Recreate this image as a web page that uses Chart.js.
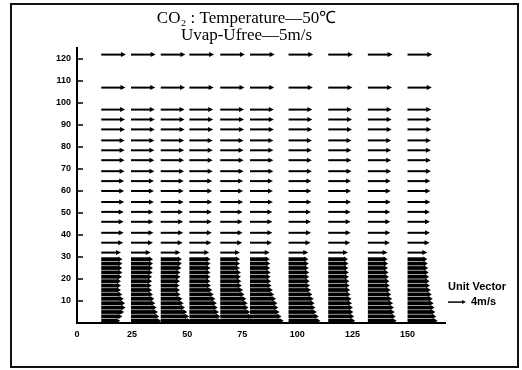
<!DOCTYPE html>
<html>
<head>
<meta charset="utf-8">
<script src="https://cdn.jsdelivr.net/npm/chart.js@4.4.0/dist/chart.umd.min.js"></script>
<style>
  html, body { margin: 0; padding: 0; background: #fff; }
  #wrap { position: relative; width: 522px; height: 370px; }
  #frame { position: absolute; left: 10px; top: 3px; width: 505px; height: 361px; border: 2px solid #111; pointer-events: none; }
</style>
</head>
<body>
<div id="wrap">
  <canvas id="myChart" width="522" height="370"></canvas>
  <div id="frame"></div>
</div>
<script>
// x position of each column of vectors
var columnsX = [11, 24.5, 38, 51, 65, 78.5, 96, 114, 132, 150];

// rows above the film (y) and their speed in m/s
var upperY = [32, 36.5, 41, 46, 50.5, 55, 60, 64.5, 69, 74, 78.5, 83, 88, 92.5, 97, 107, 122];
var upperSpeed = [4.4, 4.9, 5.0, 5.0, 5.0, 5.1, 5.1, 5.1, 5.2, 5.2, 5.2, 5.2, 5.3, 5.3, 5.3, 5.4, 5.5];

// dense rows near the wall (y) and speed per column, bottom to top
var denseY = [1, 3, 5, 7, 9, 11, 13, 15, 17, 19, 21, 23, 25, 27, 29];
var denseSpeed = [
  [4.2, 4.7, 5.1, 5.4, 5.3, 5.0, 4.7, 4.4, 4.4, 4.4, 4.6, 4.7, 4.7, 4.7, 4.7],
  [6.7, 6.3, 6.0, 5.7, 5.4, 5.2, 4.9, 4.7, 4.6, 4.7, 4.7, 4.8, 4.9, 4.9, 4.9],
  [6.8, 6.3, 5.9, 5.4, 5.1, 4.8, 4.4, 4.3, 4.2, 4.3, 4.4, 4.4, 4.6, 4.7, 4.7],
  [7.3, 6.9, 6.6, 6.3, 6.1, 5.8, 5.4, 5.1, 4.8, 4.7, 4.7, 4.7, 4.7, 4.7, 4.7],
  [7.6, 7.1, 6.7, 6.3, 6.1, 5.8, 5.4, 5.1, 4.8, 4.7, 4.6, 4.6, 4.4, 4.4, 4.4],
  [7.5, 7.0, 6.6, 6.3, 6.1, 5.8, 5.4, 5.1, 4.8, 4.7, 4.6, 4.6, 4.5, 4.5, 4.4],
  [7.1, 6.7, 6.3, 6.0, 5.8, 5.6, 5.3, 5.0, 4.8, 4.7, 4.6, 4.6, 4.5, 4.5, 4.4],
  [6.0, 5.8, 5.6, 5.5, 5.3, 5.2, 5.0, 4.9, 4.8, 4.7, 4.6, 4.6, 4.5, 4.5, 4.4],
  [6.4, 6.2, 6.0, 5.8, 5.6, 5.4, 5.2, 5.1, 4.9, 4.8, 4.7, 4.6, 4.5, 4.5, 4.4],
  [6.7, 6.4, 6.2, 6.0, 5.8, 5.6, 5.4, 5.2, 5.0, 4.9, 4.8, 4.7, 4.6, 4.5, 4.4]
];

var xTickStep = 25;
var yTickStep = 5;
var yLabelStep = 10;
var unitVector = 4;      // m/s
var VEC_SCALE = 2.04;    // x units per m/s

var titleLines = ['CO\u2082 : Temperature\u201450\u2103', 'Uvap-Ufree\u20145m/s'];

// build the point lists
var upperPts = [], densePts = [];
columnsX.forEach(function(cx, c) {
  upperY.forEach(function(y, r) { upperPts.push({x: cx, y: y, u: upperSpeed[r]}); });
  denseY.forEach(function(y, r) { densePts.push({x: cx, y: y, u: denseSpeed[c][r]}); });
});

function drawArrow(ctx, x0, y0, x1, hl, hw) {
  ctx.beginPath();
  ctx.moveTo(x0, y0);
  ctx.lineTo(x1 - hl + 1, y0);
  ctx.stroke();
  ctx.beginPath();
  ctx.moveTo(x1 - hl, y0 - hw);
  ctx.lineTo(x1, y0);
  ctx.lineTo(x1 - hl, y0 + hw);
  ctx.closePath();
  ctx.fill();
}

var arrowPlugin = {
  id: 'arrows',
  afterDatasetsDraw: function(chart) {
    var ctx = chart.ctx, xs = chart.scales.x;
    ctx.save();
    ctx.strokeStyle = '#000';
    ctx.fillStyle = '#000';
    chart.data.datasets.forEach(function(ds, i) {
      var meta = chart.getDatasetMeta(i);
      ctx.lineWidth = ds.arrowWidth;
      meta.data.forEach(function(pt, j) {
        var d = ds.data[j];
        drawArrow(ctx, pt.x, pt.y, xs.getPixelForValue(d.x + d.u * VEC_SCALE), ds.headLen, ds.headW);
      });
    });
    ctx.restore();
  },
  afterDraw: function(chart) {
    var ctx = chart.ctx, ys = chart.scales.y, xs = chart.scales.x, area = chart.chartArea;
    ctx.save();
    ctx.strokeStyle = '#000';
    // y axis ticks: major inward, minor outward
    ys.ticks.forEach(function(t) {
      if (t.value === 0) return;
      var py = ys.getPixelForValue(t.value);
      ctx.lineWidth = 1.5;
      ctx.beginPath();
      if (t.value % yLabelStep === 0 || t.value === ys.max) { ctx.moveTo(area.left, py); ctx.lineTo(area.left + 6, py); }
      else { ctx.moveTo(area.left - 3, py); ctx.lineTo(area.left, py); }
      ctx.stroke();
    });
    // unit vector key
    ctx.fillStyle = '#000';
    ctx.font = 'bold 11px "Liberation Sans", Arial, sans-serif';
    ctx.textBaseline = 'middle';
    ctx.textAlign = 'left';
    var kx = area.right + 3;
    ctx.fillText('Unit Vector', kx, ys.getPixelForValue(16.5));
    var ky = ys.getPixelForValue(9.5);
    var kx1 = kx + (xs.getPixelForValue(unitVector * VEC_SCALE) - xs.getPixelForValue(0));
    ctx.lineWidth = 1.5;
    drawArrow(ctx, kx, ky, kx1, 4, 2);
    ctx.fillText(unitVector + 'm/s', kx1 + 5, ky);
    ctx.restore();
  }
};

var ctx = document.getElementById('myChart');
var myChart = new Chart(ctx, {
  type: 'scatter',
  data: {
    datasets: [
      { label: 'upper', data: upperPts, pointRadius: 0, arrowWidth: 2, headLen: 5, headW: 2.5 },
      { label: 'film', data: densePts, pointRadius: 0, arrowWidth: 3.8, headLen: 4, headW: 2.6 }
    ]
  },
  options: {
    responsive: false,
    animation: false,
    devicePixelRatio: 1,
    layout: { padding: { left: 48, right: 77, top: 0, bottom: 0 } },
    plugins: {
      legend: { display: false },
      tooltip: { enabled: false },
      title: {
        display: true,
        text: titleLines,
        color: '#000',
        font: { family: '"Liberation Serif", "Times New Roman", serif', size: 17, weight: 'normal', lineHeight: 1.0 },
        padding: { top: 10, bottom: 4 }
      }
    },
    scales: {
      x: {
        type: 'linear',
        min: 0,
        max: 167,
        afterBuildTicks: function(s) { s.ticks = s.ticks.filter(function(t) { return t.value % xTickStep === 0; }); },
        afterFit: function(s) { s.height = 47; },
        ticks: { stepSize: xTickStep, color: '#000', padding: 6, font: { family: '"Liberation Sans", Arial, sans-serif', size: 9, weight: 'bold' } },
        grid: { display: false, drawTicks: false },
        border: { display: true, color: '#000', width: 2 }
      },
      y: {
        type: 'linear',
        min: 0,
        max: 125,
        afterFit: function(s) { s.width = 29; },
        ticks: {
          stepSize: yTickStep,
          color: '#000',
          padding: 6,
          font: { family: '"Liberation Sans", Arial, sans-serif', size: 9, weight: 'bold' },
          callback: function(v) { return (v > 0 && v % yLabelStep === 0) ? v : ''; }
        },
        grid: { display: false, drawTicks: false },
        border: { display: true, color: '#000', width: 2 }
      }
    }
  },
  plugins: [arrowPlugin]
});
</script>
</body>
</html>
